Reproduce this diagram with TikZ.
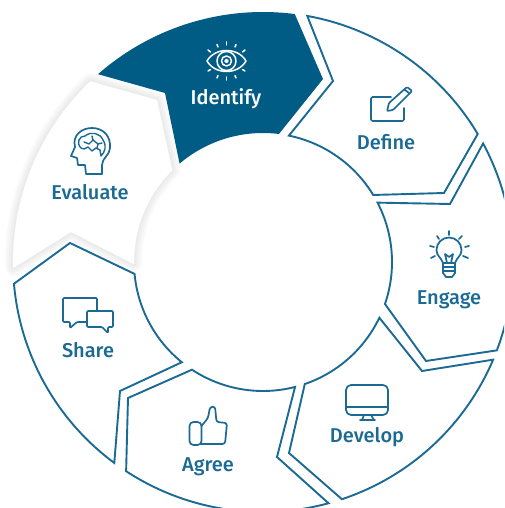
\documentclass[tikz,border=0pt]{standalone}
\usepackage{fontspec}
\setmainfont{Fira Sans Medium}
\definecolor{deepblue}{HTML}{005B85}
\definecolor{lineblue}{HTML}{1B6A93}
\tikzset{
    segment/.style={draw=lineblue,line width=1.9pt,fill=white,line join=miter},
    label/.style={font=\fontsize{20}{20}\selectfont,text=lineblue,inner sep=0pt,anchor=base},
    iconline/.style={draw=lineblue,line width=1.7pt,line join=round,line cap=round},
    eyeline/.style={draw=white,line width=1.5pt,line join=round,line cap=round},
}
\begin{document}
\begin{tikzpicture}[x=1pt,y=1pt]
    \def\outr{250}
    \def\innr{129}
    \useasboundingbox (0,0) rectangle (504,508);
    \clip (0,0) rectangle (504,508);
    \coordinate (c) at (263,246);

    % Evaluate, only a soft shadow round it
    \def\evalpath{([shift={(133.7:\outr)}]c) arc[start angle=133.7,end angle=181.4,radius=\outr]
        -- (71,276) -- ([shift={(181:\innr)}]c) arc[start angle=181,end angle=134.7,radius=\innr]
        -- (157,408) -- cycle}
    \foreach \w in {16,12,8,4} {
        \draw[black,opacity=0.018,line width=\w pt,line join=round] \evalpath;
    }
    \fill[white] \evalpath;

    % Identify
    \fill[deepblue] ([shift={(131.3:\outr)}]c) arc[start angle=131.3,end angle=82.7,radius=\outr]
        -- (323,429) -- ([shift={(82.9:\innr)}]c) arc[start angle=82.9,end angle=130.3,radius=\innr]
        -- (165,415) -- cycle;

    % the outlined ones
    \draw[segment] ([shift={(79.8:\outr)}]c) arc[start angle=79.8,end angle=30.8,radius=\outr]
        -- (444,315) -- ([shift={(31.3:\innr)}]c) arc[start angle=31.3,end angle=78.4,radius=\innr]
        -- (333,427) -- cycle;
    \draw[segment] ([shift={(28.3:\outr)}]c) arc[start angle=28.3,end angle=-20.7,radius=\outr]
        -- (426,147) -- ([shift={(-19:\innr)}]c) arc[start angle=-19,end angle=27.4,radius=\innr]
        -- (450,304) -- cycle;
    \draw[segment] ([shift={(-23:\outr)}]c) arc[start angle=-23,end angle=-71.6,radius=\outr]
        -- (289,55) -- ([shift={(-71.1:\innr)}]c) arc[start angle=-71.1,end angle=-25.6,radius=\innr]
        -- (422,137) -- cycle;
    \draw[segment] ([shift={(-74.8:\outr)}]c) arc[start angle=-74.8,end angle=-123.2,radius=\outr]
        -- (128,110) -- ([shift={(-123.4:\innr)}]c) arc[start angle=-123.4,end angle=-75.6,radius=\innr]
        -- (277,51) -- cycle;
    \draw[segment] ([shift={(-126.5:\outr)}]c) arc[start angle=-126.5,end angle=-175,radius=\outr]
        -- (70,265) -- ([shift={(-174.7:\innr)}]c) arc[start angle=-174.7,end angle=-129,radius=\innr]
        -- (120,117) -- cycle;

    % labels
    \node[label,text=white] (identify) at (226,403) {Identify};
    \node[label] (define) at (386,358) {Define};
    \node[label] (engage) at (449,203) {Engage};
    \node[label] (develop) at (367,65) {Develop};
    \node[label] (agree) at (208,36) {Agree};
    \node[label] (share) at (88,150) {Share};
    \node[label] (evaluate) at (90,308) {Evaluate};

    % icons, y running down the page
    \begin{scope}[shift={(0,508)},y=-1pt]
        % eye
        \begin{scope}[eyeline]
            \draw (207,61) .. controls (215,47) and (238,47) .. (246,61) .. controls (238,75) and (215,75) .. cycle;
            \draw (226.5,61) circle[radius=9.5];
            \draw (226.5,61) circle[radius=5];
            \draw (226.5,61) circle[radius=1.5];
            \foreach \xa/\ya/\xb/\yb in {226.5/42/226.5/45, 217/44.5/218/47, 236/44.5/235/47, 208/50/210.5/52, 245/50/242.5/52,
                    226.5/80/226.5/77, 217/78/218/75.5, 236/78/235/75.5, 208/71/210.5/69.5, 245/71/242.5/69.5} {
                \draw (\xa,\ya) -- (\xb,\yb);
            }
        \end{scope}
        % pad and pen
        \begin{scope}[iconline]
            \draw[rounded corners=1.5pt] (391,97) -- (371,97) -- (371,121) -- (404,121) -- (404,108);
            \draw[rounded corners=1pt] (387,111) -- (389,103) -- (407,87) -- (412,91) -- (393,110) -- cycle;
            \draw (404.5,89.5) -- (409.5,93.5);
        \end{scope}
        % bulb
        \begin{scope}[iconline]
            \draw (443,263) .. controls (441,257) and (436.5,256) .. (436.5,250) arc[start angle=180,end angle=360,radius=12.5]
                .. controls (461.5,256) and (457,257) .. (455,263) -- cycle;
            \draw (443,263) -- (443,273) -- (446,277) -- (452,277) -- (455,273) -- (455,263);
            \draw (443,267) -- (455,267);
            \draw (443,271) -- (455,271);
            \draw (447,263) -- (445,254) -- (449,257) -- (453,254) -- (451,263);
            \foreach \xa/\ya/\xb/\yb in {449/231/449/235, 437/236/439/239, 462/236/459/239, 430/246/434/247,
                    469/246/465/247, 431/258/435/256, 468/258/463/256} {
                \draw (\xa,\ya) -- (\xb,\yb);
            }
        \end{scope}
        % monitor
        \begin{scope}[iconline]
            \draw[rounded corners=5pt] (346,385) rectangle (388,415);
            \draw (346,407) -- (388,407);
            \draw (364,415) -- (362,420);
            \draw (371,415) -- (374,420);
            \draw (360,420) -- (375,420);
        \end{scope}
        % thumb
        \begin{scope}[iconline]
            \draw[rounded corners=4pt] (189.5,422) rectangle (201.5,445);
            \draw[rounded corners=2.5pt] (201.5,426) -- (208,418) -- (210,407) -- (215,406.5) -- (216.5,422)
                -- (227,423) -- (225,444) -- (201,444);
        \end{scope}
        % two bubbles
        \begin{scope}[iconline]
            \draw[rounded corners=1pt] (86,322) -- (77,322) -- (70,328) -- (70,322) -- (63,322) -- (63,298)
                -- (97,298) -- (97,310);
            \draw[rounded corners=1pt] (87,311) -- (113,311) -- (113,327) -- (108,327) -- (108,333) -- (102,327)
                -- (87,327) -- cycle;
        \end{scope}
        % head with brain
        \begin{scope}[iconline]
            \draw (102,174) -- (86,174) -- (85,165) -- (78,165) -- (77,158) -- (71,156) -- (75,147)
                .. controls (72,135) and (82,128) .. (92,128) .. controls (104,128) and (111,137) .. (110,148)
                .. controls (110,155) and (102,158) .. (102,165) -- cycle;
            \draw[line width=1.4pt] (81,148) .. controls (76,143) and (79,136) .. (85,136) .. controls (91,131) and (100,133) .. (103,140)
                .. controls (107,146) and (105,152) .. (101,156) -- (100,150) -- (96,148) -- (92,151) -- (88,147) -- (84,149) -- cycle;
            \draw[line width=1.4pt] (84,142) -- (89,144) -- (93,140) -- (98,144) -- (102,143);
            \draw[line width=1.4pt] (93,140) -- (92,136);
            \draw[line width=1.4pt] (98,144) -- (97,148);
        \end{scope}
    \end{scope}
\end{tikzpicture}
\end{document}
